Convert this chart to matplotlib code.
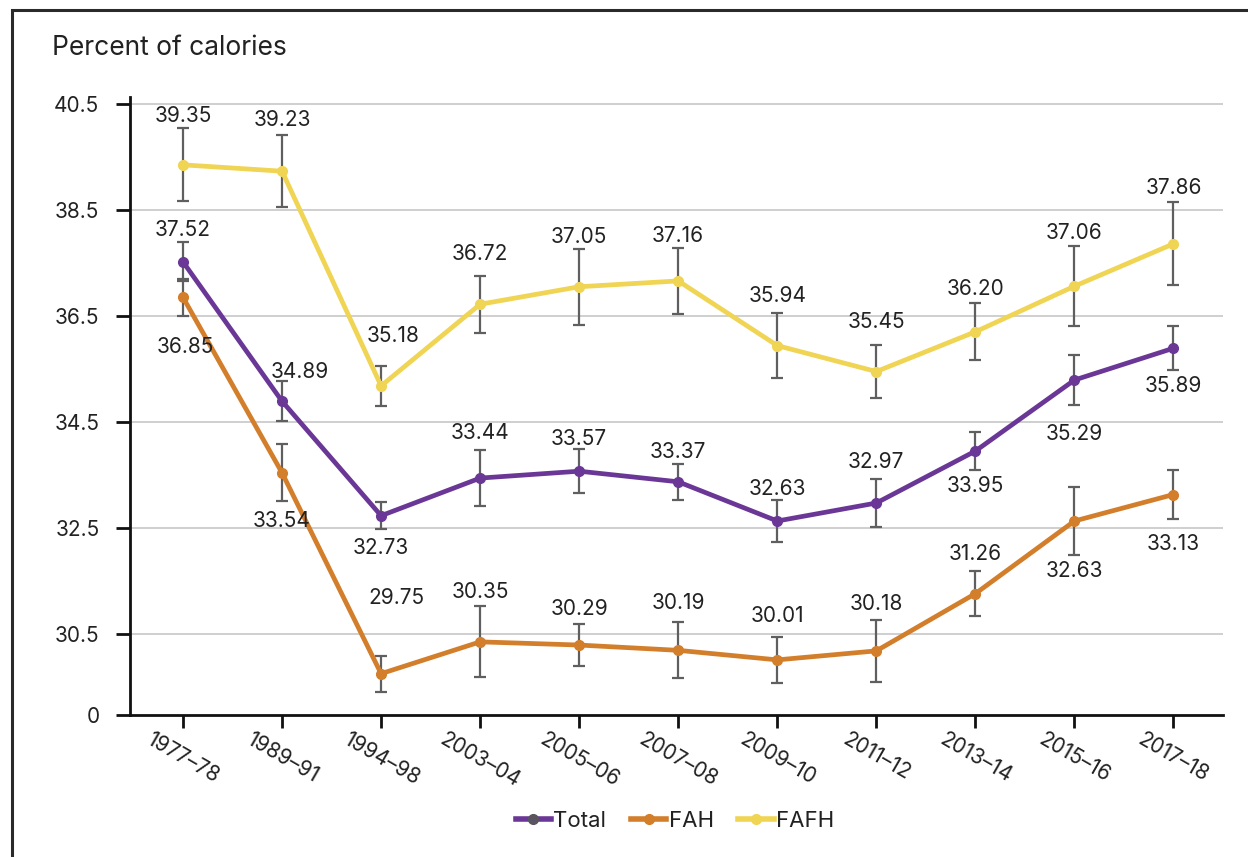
import matplotlib.pyplot as plt
from matplotlib.lines import Line2D
from matplotlib.patches import Rectangle
import numpy as np

plt.rcParams['font.family'] = ['Inter', 'DejaVu Sans']

# data
periods = ['1977\u201378', '1989\u201391', '1994\u201398', '2003\u201304', '2005\u201306',
           '2007\u201308', '2009\u201310', '2011\u201312', '2013\u201314', '2015\u201316',
           '2017\u201318']
total = [37.52, 34.89, 32.73, 33.44, 33.57, 33.37, 32.63, 32.97, 33.95, 35.29, 35.89]
fah = [36.85, 33.54, 29.75, 30.35, 30.29, 30.19, 30.01, 30.18, 31.26, 32.63, 33.13]
fafh = [39.35, 39.23, 35.18, 36.72, 37.05, 37.16, 35.94, 35.45, 36.20, 37.06, 37.86]
total_err = [0.37, 0.38, 0.25, 0.53, 0.42, 0.34, 0.40, 0.45, 0.36, 0.48, 0.42]
fah_err = [0.35, 0.54, 0.34, 0.67, 0.40, 0.53, 0.44, 0.58, 0.43, 0.64, 0.46]
fafh_err = [0.69, 0.68, 0.38, 0.54, 0.72, 0.62, 0.62, 0.50, 0.54, 0.76, 0.78]

# label placement relative to each point, in pixels (dx, dy up)
total_off = [(0, 32), (18, 29), (0, -32), (0, 45), (0, 32), (0, 30),
             (0, 32), (0, 41), (0, -35), (0, -54), (0, -38)]
fah_off = [(2, -50), (0, -48), (15, 76), (0, 50), (0, 36), (0, 47),
           (0, 44), (0, 47), (0, 40), (0, -50), (0, -49)]
fafh_off = [(0, 49), (0, 51), (12, 50), (0, 50), (0, 50), (0, 45),
            (0, 50), (0, 50), (0, 43), (0, 53), (0, 56)]

yticks = [30.5, 32.5, 34.5, 36.5, 38.5, 40.5]
ybottom = 28.97

purple = '#6a3796'
orange = '#d27e2b'
yellow = '#f0d453'
errc = '#5f5f5f'
txt = '#222222'

fig = plt.figure(figsize=(12.48, 8.57), dpi=100)
ax = fig.add_axes([130/1248, 1-715/857, (1223-130)/1248, (715-97)/857])

x = np.arange(len(periods))
series = [(total, total_err, total_off, purple),
          (fah, fah_err, fah_off, orange),
          (fafh, fafh_err, fafh_off, yellow)]

for vals, errs, offs, col in series:
    ax.errorbar(x, vals, yerr=errs, fmt='none', ecolor=errc, elinewidth=1.6,
                capsize=4, capthick=1.6, zorder=2)
for vals, errs, offs, col in series:
    ax.plot(x, vals, color=col, lw=3.4, marker='o', ms=7, zorder=3,
            solid_capstyle='round')
    for xi, v, (dx, dy) in zip(x, vals, offs):
        ax.annotate(f'{v:.2f}', (xi, v), xytext=(dx * 0.72, dy * 0.72),
                    textcoords='offset points', ha='center', va='center',
                    fontsize=15, color=txt)

ax.set_xlim(-0.535, 10.5)
ax.set_ylim(ybottom, 40.63)
ax.set_yticks([ybottom] + yticks)
ax.set_yticklabels(['0'] + [f'{t:.1f}' for t in yticks])
ax.set_xticks(x)
ax.set_xticklabels(periods, rotation=-30, ha='center')
ax.grid(axis='y', color='#cccccc', lw=1.3)
ax.set_axisbelow(True)
for gl in ax.get_ygridlines()[:1]:
    gl.set_visible(False)

for s in ['top', 'right']:
    ax.spines[s].set_visible(False)
for s in ['left', 'bottom']:
    ax.spines[s].set_linewidth(2)
    ax.spines[s].set_color('#111111')
ax.tick_params(axis='y', length=10, width=2, color='#111111', labelsize=15,
               labelcolor=txt, pad=12)
ax.tick_params(axis='x', length=9, width=2, color='#111111', labelsize=15,
               labelcolor=txt, pad=1)

fig.text(52/1248, 1-48/857, 'Percent of calories', fontsize=19, color=txt,
         va='center', ha='left')

handles = [
    Line2D([], [], color=purple, lw=4, marker='o', ms=7, mfc='#5a5460', mec='#5a5460'),
    Line2D([], [], color=orange, lw=4, marker='o', ms=7),
    Line2D([], [], color=yellow, lw=4, marker='o', ms=7),
]
fig.legend(handles, ['Total', 'FAH', 'FAFH'], loc='center',
           bbox_to_anchor=(675/1248, 1-821/857), ncol=3, frameon=False,
           fontsize=16, handlelength=1.6, handletextpad=0.1, columnspacing=1.1,
           labelcolor=txt)

# outer frame (left and top edges visible)
fig.patches.append(Rectangle((12/1248, -0.1), 1.2, 1 - 10/857 + 0.1,
                             transform=fig.transFigure, fill=False,
                             edgecolor='#2a2a2a', lw=2.2))

fig.savefig('out.png', dpi=100)
